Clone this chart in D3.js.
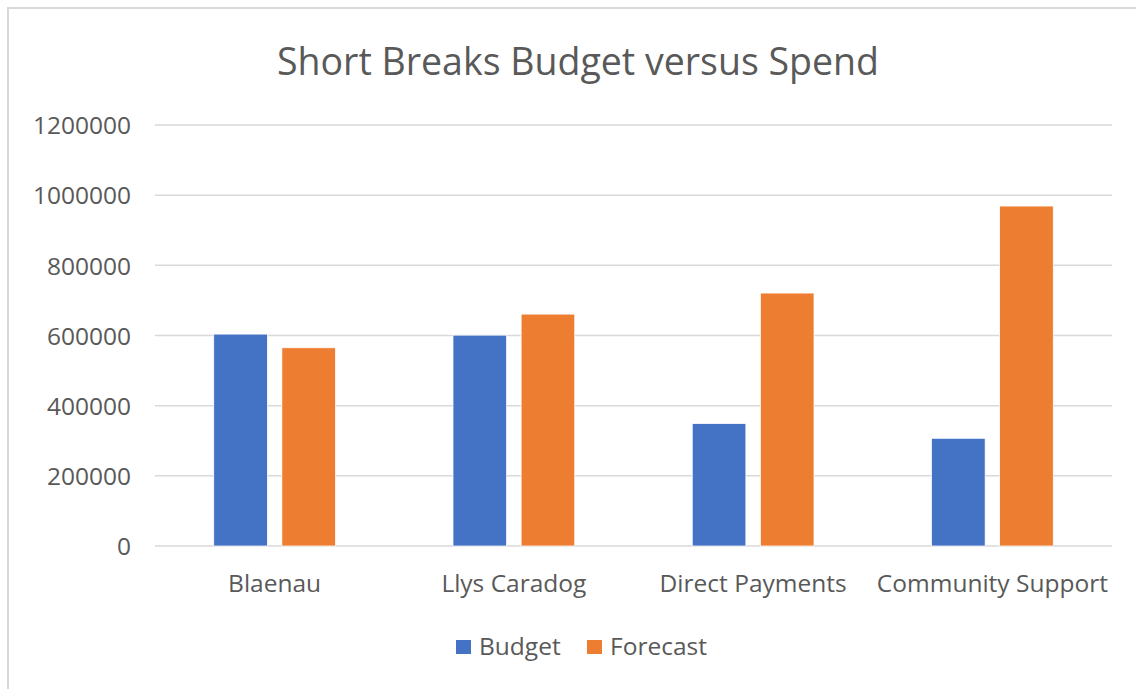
<!DOCTYPE html>
<html>
<head>
<meta charset="utf-8">
<script src="https://cdn.jsdelivr.net/npm/d3@7"></script>
<style>
  body { margin: 0; background: #fff; }
  text { font-family: "Open Sans", sans-serif; fill: #595959; }
</style>
</head>
<body>
<div id="chart"></div>
<script>
const categories = ["Blaenau", "Llys Caradog", "Direct Payments", "Community Support"];
const seriesNames = ["Budget", "Forecast"];
const budget = [604000, 601000, 349000, 307000];
const forecast = [565000, 661000, 721000, 969000];
const yTicks = [0, 200000, 400000, 600000, 800000, 1000000, 1200000];
const colors = ["#4472C4", "#ED7D31"];

const width = 1136;
const height = 689;
const plotLeft = 155, plotRight = 1112, plotTop = 125, plotBottom = 546;

const svg = d3.select("#chart").append("svg")
  .attr("width", width)
  .attr("height", height);

// chart border
svg.append("rect")
  .attr("x", 8).attr("y", 8)
  .attr("width", width + 20).attr("height", height + 20)
  .attr("fill", "#fff")
  .attr("stroke", "#d9d9d9")
  .attr("stroke-width", 2);

const y = d3.scaleLinear().domain([0, 1200000]).range([plotBottom, plotTop]);
const x = d3.scaleBand().domain(categories).range([plotLeft, plotRight]);

// excel style: gap width 219%, overlap -27%
const barW = x.bandwidth() / (2.27 + 2.19);
const xs = d3.scaleBand().domain(seriesNames)
  .range([x.bandwidth() / 2 - barW * 1.135, x.bandwidth() / 2 + barW * 1.135])
  .paddingInner(0.27 / 1.27);

// gridlines
svg.append("g")
  .selectAll("line")
  .data(yTicks)
  .enter()
  .append("line")
  .attr("x1", plotLeft).attr("x2", plotRight)
  .attr("y1", d => y(d)).attr("y2", d => y(d))
  .attr("stroke", "#d9d9d9")
  .attr("stroke-width", 1.5);

// y axis labels
const yAxis = svg.append("g")
  .attr("transform", `translate(${plotLeft - 24},0)`)
  .call(d3.axisLeft(y).tickValues(yTicks).tickSize(0).tickPadding(0).tickFormat(d3.format("d")));
yAxis.select(".domain").remove();
yAxis.selectAll("text")
  .attr("dy", "0.36em")
  .style("font-size", "24.5px")
  .style("font-family", "'Open Sans', sans-serif")
  .attr("fill", "#595959");

// x axis labels
const xAxis = svg.append("g")
  .attr("transform", `translate(0,${plotBottom})`)
  .call(d3.axisBottom(x).tickSize(0).tickPadding(29));
xAxis.select(".domain").remove();
xAxis.selectAll("text")
  .style("font-size", "24.5px")
  .style("font-family", "'Open Sans', sans-serif")
  .attr("fill", "#595959");

// bars
const rows = categories.map((c, i) => ({ cat: c, values: [budget[i], forecast[i]] }));
const groups = svg.append("g")
  .selectAll("g")
  .data(rows)
  .enter()
  .append("g")
  .attr("transform", d => `translate(${x(d.cat)},0)`);

groups.selectAll("rect")
  .data(d => d.values.map((v, j) => ({ name: seriesNames[j], value: v, j: j })))
  .enter()
  .append("rect")
  .attr("x", d => xs(d.name))
  .attr("width", xs.bandwidth())
  .attr("y", d => y(d.value))
  .attr("height", d => plotBottom - y(d.value))
  .attr("fill", d => colors[d.j])
  .attr("stroke", "#fff")
  .attr("stroke-width", 0.75);

// title
svg.append("text")
  .attr("x", 578).attr("y", 75)
  .attr("text-anchor", "middle")
  .style("font-size", "37.5px")
  .text("Short Breaks Budget versus Spend");

// legend
const legend = svg.append("g").attr("transform", "translate(456,655)");
const legendX = [0, 131];
seriesNames.forEach((s, i) => {
  legend.append("rect")
    .attr("x", legendX[i]).attr("y", -15)
    .attr("width", 15).attr("height", 14)
    .attr("fill", colors[i]);
  legend.append("text")
    .attr("x", legendX[i] + 23).attr("y", 0)
    .style("font-size", "24.5px")
    .text(s);
});
</script>
</body>
</html>
